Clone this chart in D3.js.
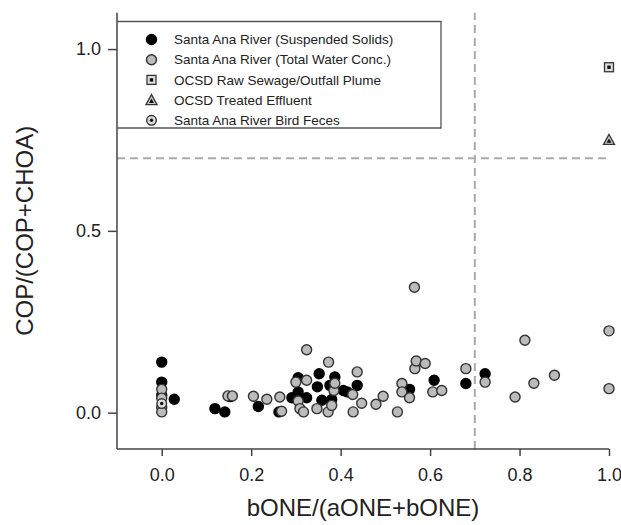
<!DOCTYPE html>
<html>
<head>
<meta charset="utf-8">
<script src="https://cdn.jsdelivr.net/npm/d3@7"></script>
<style>
  body { margin: 0; background: #fff; }
  text { font-family: "Liberation Sans", Arial, sans-serif; fill: #222; }
</style>
</head>
<body>
<div id="chart"></div>
<script>
const width = 621,
  height = 525;

// Santa Ana River (Suspended Solids) [bONE fraction, COP fraction]
const suspended = [
  [0, 0.139], [0, 0.084], [0, 0.048], [0.028, 0.037], [0.119, 0.011], [0.141, 0.002],
  [0.153, 0.044], [0.216, 0.017], [0.262, 0.002], [0.291, 0.041], [0.305, 0.096],
  [0.305, 0.057], [0.324, 0.041], [0.348, 0.071], [0.352, 0.107], [0.358, 0.034],
  [0.376, 0.075], [0.380, 0.036], [0.387, 0.098], [0.406, 0.061], [0.415, 0.057],
  [0.437, 0.075], [0.554, 0.064], [0.609, 0.089], [0.680, 0.080], [0.723, 0.107]
];

// Santa Ana River (Total Water Conc.)
const total = [
  [0, 0.064], [0, 0.040], [0, 0.015], [0, 0.002], [0.148, 0.046], [0.158, 0.046],
  [0.205, 0.045], [0.235, 0.037], [0.264, 0.043], [0.268, 0.004], [0.300, 0.084],
  [0.305, 0.032], [0.309, 0.011], [0.317, 0.002], [0.324, 0.173], [0.324, 0.089],
  [0.347, 0.011], [0.372, 0.002], [0.373, 0.139], [0.380, 0.020], [0.385, 0.061],
  [0.387, 0.081], [0.427, 0.050], [0.428, 0.002], [0.437, 0.112], [0.447, 0.026],
  [0.479, 0.023], [0.495, 0.045], [0.527, 0.002], [0.537, 0.080], [0.537, 0.057],
  [0.554, 0.041], [0.565, 0.345], [0.566, 0.121], [0.569, 0.142], [0.589, 0.135],
  [0.606, 0.057], [0.626, 0.061], [0.680, 0.121], [0.723, 0.084], [0.790, 0.043],
  [0.812, 0.199], [0.832, 0.081], [0.878, 0.103], [1.0, 0.225], [1.0, 0.066]
];

const sewage = [[1.0, 0.95]];
const effluent = [[1.0, 0.75]];
const feces = [[0, 0.025]];

const legendLabels = [
  "Santa Ana River (Suspended Solids)",
  "Santa Ana River (Total Water Conc.)",
  "OCSD Raw Sewage/Outfall Plume",
  "OCSD Treated Effluent",
  "Santa Ana River Bird Feces"
];

const xTicks = [0, 0.2, 0.4, 0.6, 0.8, 1.0];
const yTicks = [0, 0.5, 1.0];
const cutoff = 0.7;

const x = d3.scaleLinear().domain([-0.1, 1.0]).range([117, 609]);
const y = d3.scaleLinear().domain([-0.1, 1.1]).range([449, 12.7]);

const svg = d3.select("#chart")
  .append("svg")
  .attr("width", width)
  .attr("height", height);

// dashed threshold lines
svg.append("line")
  .attr("x1", x(-0.1)).attr("x2", x(1.0))
  .attr("y1", y(cutoff)).attr("y2", y(cutoff))
  .attr("stroke", "#aaa").attr("stroke-width", 2)
  .attr("stroke-dasharray", "8,5");
svg.append("line")
  .attr("x1", x(cutoff)).attr("x2", x(cutoff))
  .attr("y1", y(-0.1)).attr("y2", y(1.1))
  .attr("stroke", "#aaa").attr("stroke-width", 2)
  .attr("stroke-dasharray", "8,5");

// axes
const xAxis = svg.append("g")
  .attr("transform", `translate(0,${y(-0.1)})`)
  .call(d3.axisBottom(x).tickValues(xTicks).tickFormat(d3.format(".1f")).tickSize(7).tickPadding(12));
const yAxis = svg.append("g")
  .attr("transform", `translate(${x(-0.1)},0)`)
  .call(d3.axisLeft(y).tickValues(yTicks).tickFormat(d3.format(".1f")).tickSize(9).tickPadding(7));

[xAxis, yAxis].forEach(g => {
  g.select(".domain").attr("stroke", "#444").attr("stroke-width", 1.5);
  g.selectAll(".tick line").attr("stroke", "#444").attr("stroke-width", 1.5);
  g.selectAll(".tick text")
    .style("font-family", "'Liberation Sans', Arial, sans-serif")
    .style("font-size", "18px")
    .attr("fill", "#222");
});
// R style axis ends without outer ticks
xAxis.select(".domain").attr("d", `M${x(-0.1)},0H${x(1.0)}`);
yAxis.select(".domain").attr("d", `M0,${y(-0.1)}V${y(1.1)}`);

svg.append("text")
  .attr("x", (x(-0.1) + x(1.0)) / 2)
  .attr("y", 516)
  .attr("text-anchor", "middle")
  .style("font-size", "24px")
  .text("bONE/(aONE+bONE)");

svg.append("text")
  .attr("transform", `translate(33,${(y(-0.1) + y(1.1)) / 2}) rotate(-90)`)
  .attr("text-anchor", "middle")
  .style("font-size", "24px")
  .text("COP/(COP+CHOA)");

// marker drawing helpers
function circleMark(g, fill) {
  g.append("circle").attr("r", 5).attr("fill", fill)
    .attr("stroke", fill === "#000" ? "#000" : "#333").attr("stroke-width", 1.4);
}
function squareMark(g) {
  g.append("rect").attr("x", -4.5).attr("y", -4.5).attr("width", 9).attr("height", 9)
    .attr("fill", "#ddd").attr("stroke", "#333").attr("stroke-width", 1.3);
  g.append("rect").attr("x", -1.7).attr("y", -1.7).attr("width", 3.4).attr("height", 3.4).attr("fill", "#111");
}
function triMark(g) {
  g.append("path").attr("d", "M0,-5.5L5.5,4.5L-5.5,4.5Z")
    .attr("fill", "#ccc").attr("stroke", "#333").attr("stroke-width", 1.3);
  g.append("path").attr("d", "M0,-1.5L2.5,2.8L-2.5,2.8Z").attr("fill", "#111");
}
function fecesMark(g) {
  g.append("circle").attr("r", 4.8).attr("fill", "#ddd").attr("stroke", "#333").attr("stroke-width", 1.4);
  g.append("circle").attr("r", 1.7).attr("fill", "#111");
}

function plot(data, draw) {
  svg.append("g")
    .selectAll("g")
    .data(data)
    .join("g")
    .attr("transform", d => `translate(${x(d[0])},${y(d[1])})`)
    .each(function () { draw(d3.select(this)); });
}

plot(suspended, g => circleMark(g, "#000"));
plot(total, g => circleMark(g, "#bbb"));
plot(sewage, squareMark);
plot(effluent, triMark);
plot(feces, fecesMark);

// legend
const legend = svg.append("g");
legend.append("path")
  .attr("d", `M${x(-0.1)},21.5H441V128H${x(-0.1)}`)
  .attr("fill", "none").attr("stroke", "#555").attr("stroke-width", 1.3);

const drawers = [g => circleMark(g, "#000"), g => circleMark(g, "#bbb"), squareMark, triMark, fecesMark];
legendLabels.forEach((label, i) => {
  const ly = 39.5 + i * 20.2;
  const g = legend.append("g").attr("transform", `translate(151.5,${ly})`);
  drawers[i](g);
  legend.append("text")
    .attr("x", 174).attr("y", ly)
    .attr("dy", "0.35em")
    .style("font-size", "13.5px")
    .text(label);
});
</script>
</body>
</html>
